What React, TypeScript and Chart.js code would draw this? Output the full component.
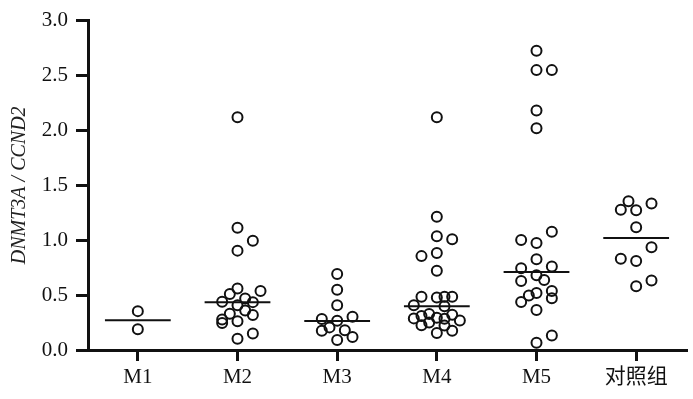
import React, { useEffect, useRef } from 'react';
import { Chart, registerables } from 'chart.js';

Chart.register(...registerables);

// Categories (x axis)
const categories = ['M1', 'M2', 'M3', 'M4', 'M5', '对照组'];

// Y values per group, and jitter slot (horizontal spread index)
const m1Values = [0.354, 0.19];
const m1Slots = [0, 0];

const m2Values = [2.12, 1.114, 0.996, 0.905, 0.56, 0.537, 0.51, 0.44, 0.47, 0.436, 0.407, 0.36, 0.33, 0.318, 0.277, 0.245, 0.262, 0.103, 0.15];
const m2Slots = [0, 0, 2, 0, 0, 3, -1, -2, 1, 2, 0, 1, -1, 2, -2, -2, 0, 0, 2];

const m3Values = [0.692, 0.548, 0.408, 0.283, 0.267, 0.302, 0.175, 0.206, 0.18, 0.091, 0.118];
const m3Slots = [0, 0, 0, -2, 0, 2, -2, -1, 1, 0, 2];

const m4Values = [2.12, 1.214, 1.037, 1.008, 0.884, 0.855, 0.722, 0.486, 0.478, 0.486, 0.486, 0.407, 0.398, 0.288, 0.31, 0.327, 0.25, 0.225, 0.294, 0.285, 0.32, 0.268, 0.222, 0.155, 0.175];
const m4Slots = [0, 0, 0, 2, 0, -2, 0, -2, 0, 1, 2, -3, 1, -3, -2, -1, -1, -2, 0, 1, 2, 3, 1, 0, 2];

const m5Values = [2.726, 2.549, 2.549, 2.181, 2.019, 1.076, 1.002, 0.975, 0.827, 0.745, 0.76, 0.68, 0.628, 0.638, 0.537, 0.471, 0.497, 0.52, 0.438, 0.364, 0.065, 0.133];
const m5Slots = [0, 0, 2, 0, 0, 2, -2, 0, 0, -2, 2, 0, -2, 1, 2, 2, -1, 0, -2, 0, 0, 2];

const ctrlValues = [1.355, 1.278, 1.272, 1.335, 1.118, 0.935, 0.83, 0.81, 0.58, 0.633];
const ctrlSlots = [-1, -2, 0, 2, 0, 2, -2, 0, 0, 2];

// Median per group
const medians = [0.27, 0.436, 0.265, 0.398, 0.71, 1.02];

// Y axis
const yMin = 0;
const yMax = 3;
const yStep = 0.5;
const yTitle = 'DNMT3A / CCND2';

const SLOT = 0.077;
const MEDIAN_HALF = 0.33;
const FONT = "'Liberation Serif', 'Times New Roman', 'Noto Sans CJK SC', serif";
const INK = '#111';

export default function App() {
  const ref = useRef<HTMLCanvasElement>(null);

  useEffect(() => {
    document.body.style.margin = '0';
    const groups: [number[], number[]][] = [
      [m1Values, m1Slots],
      [m2Values, m2Slots],
      [m3Values, m3Slots],
      [m4Values, m4Slots],
      [m5Values, m5Slots],
      [ctrlValues, ctrlSlots],
    ];
    const datasets: any[] = [];
    groups.forEach(([vals, slots], gi) => {
      datasets.push({
        type: 'scatter',
        data: vals.map((v, i) => ({ x: gi + slots[i] * SLOT, y: v })),
        pointRadius: 5,
        pointBorderWidth: 2,
        borderColor: INK,
        pointBorderColor: INK,
        backgroundColor: 'rgba(255,255,255,0)',
        pointBackgroundColor: 'rgba(255,255,255,0)',
        showLine: false,
      });
    });
    medians.forEach((m, gi) => {
      datasets.push({
        type: 'line',
        data: [
          { x: gi - MEDIAN_HALF, y: m },
          { x: gi + MEDIAN_HALF, y: m },
        ],
        borderColor: INK,
        borderWidth: 2,
        pointRadius: 0,
        fill: false,
        showLine: true,
      });
    });

    const chart = new Chart(ref.current as HTMLCanvasElement, {
      type: 'scatter',
      data: { datasets },
      options: {
        animation: false,
        responsive: true,
        maintainAspectRatio: false,
        events: [],
        layout: { padding: { top: 10, right: 3, left: 0, bottom: 0 } },
        plugins: { legend: { display: false }, tooltip: { enabled: false } },
        scales: {
          x: {
            type: 'linear',
            min: -0.5,
            max: categories.length - 0.5,
            afterBuildTicks: (s: any) => {
              s.ticks = categories.map((_, i) => ({ value: i }));
            },
            afterFit: (s: any) => {
              s.height = 49;
            },
            ticks: {
              autoSkip: false,
              maxRotation: 0,
              padding: 4,
              color: INK,
              font: { family: FONT, size: 21 },
              callback: (v: any) => categories[Math.round(Number(v))] ?? '',
            },
            grid: {
              display: true,
              drawOnChartArea: false,
              drawTicks: true,
              tickLength: 11,
              color: INK,
              lineWidth: 3,
            },
            border: { display: true, color: INK, width: 3 },
          },
          y: {
            type: 'linear',
            min: yMin,
            max: yMax,
            afterFit: (s: any) => {
              s.width = 88;
            },
            ticks: {
              stepSize: yStep,
              padding: 8,
              color: INK,
              font: { family: FONT, size: 21 },
              callback: (v: any) => Number(v).toFixed(1),
            },
            grid: {
              display: true,
              drawOnChartArea: false,
              drawTicks: true,
              tickLength: 12,
              color: INK,
              lineWidth: 3,
            },
            border: { display: true, color: INK, width: 3 },
            title: {
              display: true,
              text: yTitle,
              color: '#222',
              font: { family: FONT, size: 20, style: 'italic' },
              padding: { top: 8, bottom: 0 },
            },
          },
        },
      },
    } as any);
    return () => chart.destroy();
  }, []);

  return (
    <div style={{ width: 693, height: 399, position: 'relative' }}>
      <canvas ref={ref} />
    </div>
  );
}
